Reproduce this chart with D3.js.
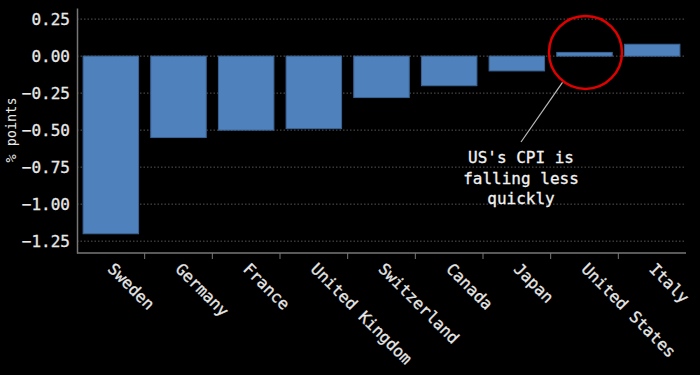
<!DOCTYPE html>
<meta charset="utf-8">
<script src="https://d3js.org/d3.v7.min.js"></script>
<style>
  body { margin: 0; background: #000; }
  text { font-family: "DejaVu Sans Mono", "Liberation Mono", monospace; }
  .lbl { stroke-width: 0.3px; }
</style>
<body>
<div id="my_dataviz"></div>
<script>
  // data
  var countries = ["Sweden", "Germany", "France", "United Kingdom", "Switzerland",
                   "Canada", "Japan", "United States", "Italy"];
  var changes = [-1.20, -0.55, -0.50, -0.49, -0.28, -0.20, -0.10, 0.025, 0.08];
  var yTicks = [0.25, 0, -0.25, -0.5, -0.75, -1.0, -1.25];
  var noteLines = ["US's CPI is", "falling less", "quickly"];

  var W = 700, H = 375;
  var plotLeft = 77, plotRight = 686, plotTop = 8, plotBottom = 253;
  var textColor = "#e8e8e8";

  var svg = d3.select("#my_dataviz")
    .append("svg")
    .attr("width", W)
    .attr("height", H)
    .style("background", "#000");

  var x = d3.scaleBand()
    .domain(countries)
    .range([plotLeft, plotRight])
    .paddingInner(0.18)
    .paddingOuter(0.09);

  var y = d3.scaleLinear()
    .domain([-1.33, 0.325])
    .range([plotBottom, plotTop]);

  // dotted grid
  svg.append("g")
    .selectAll("line")
    .data(yTicks)
    .enter()
    .append("line")
      .attr("x1", plotLeft)
      .attr("x2", plotRight)
      .attr("y1", function(d) { return y(d); })
      .attr("y2", function(d) { return y(d); })
      .attr("stroke", "#555")
      .attr("stroke-width", 1)
      .attr("stroke-dasharray", "1.5,2");

  // y axis
  var yAxis = svg.append("g")
    .attr("transform", "translate(" + plotLeft + ",0)")
    .call(d3.axisLeft(y).tickValues(yTicks).tickSize(0).tickPadding(7)
      .tickFormat(d3.format(".2f")));
  yAxis.select(".domain").attr("stroke", "#777").attr("stroke-width", 1.5);
  yAxis.selectAll("text")
    .attr("class", "lbl")
    .attr("fill", textColor)
    .attr("stroke", textColor)
    .style("font-size", "16px");

  svg.append("text")
    .attr("transform", "translate(16," + 130 + ") rotate(-90)")
    .attr("text-anchor", "middle")
    .attr("fill", textColor)
    .style("font-size", "13.5px")
    .text("% points");

  // bars
  svg.append("g")
    .selectAll("rect")
    .data(countries)
    .enter()
    .append("rect")
      .attr("x", function(d) { return x(d); })
      .attr("width", x.bandwidth())
      .attr("y", function(d, i) { return y(Math.max(0, changes[i])); })
      .attr("height", function(d, i) { return Math.abs(y(changes[i]) - y(0)); })
      .attr("fill", "#4f81bd")
      .attr("stroke", "#3b6494")
      .attr("stroke-width", 1);

  // x axis: line + ticks at band boundaries
  var xg = svg.append("g");
  xg.append("line")
    .attr("x1", plotLeft).attr("x2", plotRight)
    .attr("y1", plotBottom).attr("y2", plotBottom)
    .attr("stroke", "#777").attr("stroke-width", 1.5);
  xg.selectAll(".tick")
    .data(countries.slice(1))
    .enter()
    .append("line")
      .attr("x1", function(d) { return x(d) - x.step() * x.paddingInner() / 2; })
      .attr("x2", function(d) { return x(d) - x.step() * x.paddingInner() / 2; })
      .attr("y1", plotBottom)
      .attr("y2", plotBottom + 6)
      .attr("stroke", "#777");
  xg.selectAll(".xlbl")
    .data(countries)
    .enter()
    .append("text")
      .attr("class", "lbl")
      .attr("transform", function(d) {
        return "translate(" + (x(d) + x.bandwidth() / 2 - 4) + "," + (plotBottom + 17) + ") rotate(45)";
      })
      .attr("text-anchor", "start")
      .attr("fill", textColor)
      .attr("stroke", textColor)
      .style("font-size", "16px")
      .text(function(d) { return d; });

  // annotation
  var us = "United States";
  var cx = x(us) + x.bandwidth() / 2 + 1;
  var cy = y(0.025);
  svg.append("circle")
    .attr("cx", cx).attr("cy", cy).attr("r", 36.5)
    .attr("fill", "none")
    .attr("stroke", "#e00000")
    .attr("stroke-width", 2.5);
  svg.append("line")
    .attr("x1", cx - 23).attr("y1", cy + 30)
    .attr("x2", 521).attr("y2", 142)
    .attr("stroke", "#bbb").attr("stroke-width", 1.2);
  svg.append("text")
    .attr("class", "lbl")
    .attr("text-anchor", "middle")
    .attr("fill", "#f2f2f2")
    .attr("stroke", "#f2f2f2")
    .style("font-size", "16px")
    .selectAll("tspan")
    .data(noteLines)
    .enter()
    .append("tspan")
      .attr("x", 521)
      .attr("y", function(d, i) { return 163 + i * 20.5; })
      .text(function(d) { return d; });
</script>
</body>
